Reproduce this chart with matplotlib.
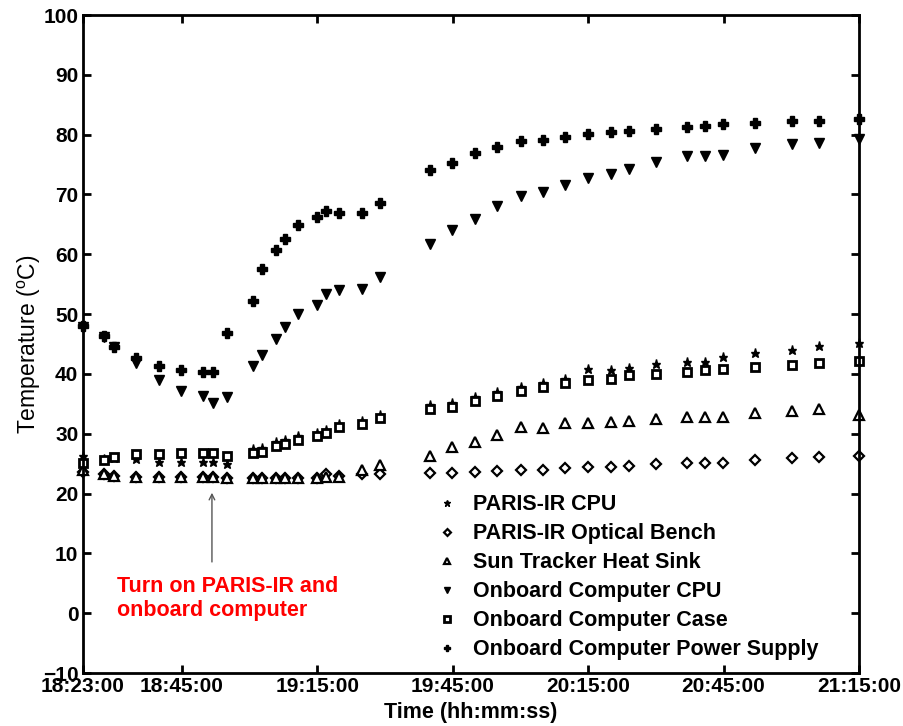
import pandas as pd
import numpy as np
import matplotlib
matplotlib.use('Agg')
import matplotlib.pyplot as plt
import matplotlib.dates as mdates

plt.rcParams['font.family'] = ['Liberation Sans', 'DejaVu Sans']
plt.rcParams['mathtext.fontset'] = 'custom'
plt.rcParams['mathtext.rm'] = 'Liberation Sans'

# sample times (same date for all readings)
times = ['18:23:00', '18:27:50', '18:30:00', '18:34:50', '18:39:50', '18:44:50',
         '18:49:40', '18:51:55', '18:54:55', '19:00:50', '19:02:50', '19:05:55',
         '19:07:55', '19:10:50', '19:14:50', '19:17:00', '19:19:50', '19:24:55',
         '19:28:55', '19:40:00', '19:44:50', '19:49:55', '19:54:50', '20:00:05',
         '20:04:55', '20:09:50', '20:14:55', '20:20:00', '20:24:00', '20:30:00',
         '20:36:50', '20:41:00', '20:44:50', '20:51:55', '21:00:05', '21:06:05',
         '21:15:00']

paris_cpu = [26.3, 25.8, 26.0, 25.8, 25.3, 25.3, 25.3, 25.3, 25.0, 27.4,
             27.6, 28.6, 28.9, 29.6, 30.2, 30.7, 31.7, 32.2, 33.2, 34.8,
             35.1, 36.1, 36.9, 37.8, 38.5, 39.2, 40.9, 40.6, 41.0, 41.7,
             42.0, 42.0, 42.8, 43.5, 44.0, 44.7, 45.2]
optical_bench = [23.6, 23.3, 22.9, 22.8, 22.8, 22.8, 22.8, 22.8, 22.6, 22.6,
                 22.6, 22.6, 22.6, 22.6, 22.6, 23.3, 23.0, 23.2, 23.3, 23.4,
                 23.4, 23.6, 23.8, 24.0, 24.0, 24.3, 24.4, 24.4, 24.6, 24.9,
                 25.1, 25.1, 25.1, 25.6, 26.0, 26.1, 26.3]
heat_sink = [24.0, 23.3, 23.0, 22.8, 22.8, 22.8, 22.8, 22.8, 22.6, 22.6,
             22.6, 22.6, 22.6, 22.6, 22.6, 22.8, 22.8, 23.9, 24.8, 26.2,
             27.8, 28.6, 29.8, 31.1, 31.0, 31.8, 31.8, 32.0, 32.1, 32.5,
             32.8, 32.8, 32.8, 33.5, 33.8, 34.1, 33.1]
obc_cpu = [47.8, 46.2, 44.5, 41.8, 39.0, 37.2, 36.3, 35.2, 36.2, 41.3,
           43.2, 45.9, 47.9, 50.0, 51.5, 53.4, 54.0, 54.2, 56.2, 61.7,
           64.1, 65.9, 68.1, 69.8, 70.4, 71.6, 72.8, 73.4, 74.3, 75.5,
           76.5, 76.5, 76.6, 77.8, 78.5, 78.6, 79.3]
obc_case = [25.1, 25.6, 26.1, 26.6, 26.6, 26.8, 26.8, 26.8, 26.3, 26.8,
            27.0, 28.0, 28.3, 29.0, 29.6, 30.1, 31.1, 31.6, 32.6, 34.2,
            34.5, 35.5, 36.3, 37.2, 37.8, 38.4, 39.0, 39.2, 39.8, 40.0,
            40.3, 40.7, 40.8, 41.2, 41.5, 41.8, 42.2]
obc_power = [48.0, 46.3, 44.5, 42.6, 41.3, 40.7, 40.3, 40.3, 46.9, 52.2,
             57.6, 60.7, 62.6, 64.9, 66.3, 67.3, 66.9, 66.9, 68.6, 74.1,
             75.3, 77.0, 78.0, 79.0, 79.1, 79.6, 80.1, 80.5, 80.6, 81.0,
             81.3, 81.5, 81.8, 82.0, 82.3, 82.3, 82.6]

tick_times = ['18:23:00', '18:45:00', '19:15:00', '19:45:00',
              '20:15:00', '20:45:00', '21:15:00']

day = '2010-01-01 '
t = pd.to_datetime([day + s for s in times])
ticks = mdates.date2num(pd.to_datetime([day + s for s in tick_times]))

fig = plt.figure(figsize=(9.04, 7.26), dpi=100)
ax = fig.add_axes([0.0913, 0.0730, 0.8589, 0.9063])

style = dict(linestyle='none', clip_on=False, color='black')
ax.plot(t, paris_cpu, marker='*', markersize=6.5, label='PARIS-IR CPU', **style)
ax.plot(t, optical_bench, marker='D', markersize=5, markerfacecolor='white',
        markeredgewidth=1.6, label='PARIS-IR Optical Bench', **style)
ax.plot(t, heat_sink, marker='^', markersize=6.5, markerfacecolor='white',
        markeredgewidth=1.6, label='Sun Tracker Heat Sink', **style)
ax.plot(t, obc_cpu, marker='v', markersize=6.5, label='Onboard Computer CPU', **style)
ax.plot(t, obc_case, marker='s', markersize=5.5, markerfacecolor='white',
        markeredgewidth=2.0, label='Onboard Computer Case', **style)
ax.plot(t, obc_power, marker='P', markersize=6.5, label='Onboard Computer Power Supply', **style)

ax.set_xlim(ticks[0], ticks[-1])
ax.set_ylim(-10, 100)
ax.set_xticks(ticks)
ax.xaxis.set_major_formatter(mdates.DateFormatter('%H:%M:%S'))
ax.set_yticks(np.arange(-10, 101, 10))

for s in ax.spines.values():
    s.set_linewidth(2)
ax.tick_params(direction='in', length=6, width=2, top=True, right=True,
               labelsize=15, pad=3)
for lbl in ax.get_xticklabels() + ax.get_yticklabels():
    lbl.set_fontweight('bold')

ax.set_xlabel('Time (hh:mm:ss)', fontsize=15.5, fontweight='bold', labelpad=4)
ax.set_ylabel('Temperature ($^{\\rm o}$C)', fontsize=16.5, labelpad=0)

# power-on annotation
x_arrow = mdates.date2num(pd.Timestamp(day + '18:51:40'))
ax.annotate('', xy=(x_arrow, 20.6), xytext=(x_arrow, 8.1),
            arrowprops=dict(arrowstyle='->', color='#555555', lw=1))
ax.text(mdates.date2num(pd.Timestamp(day + '18:30:38')), 6.3,
        'Turn on PARIS-IR and\nonboard computer', color='red',
        fontsize=15.5, fontweight='bold', ha='left', va='top', linespacing=1.2)

leg = ax.legend(loc='upper left', bbox_to_anchor=(0.431, 0.301), frameon=False,
                prop=dict(size=15.5, weight='bold'), markerscale=0.7,
                handlelength=1.0, handletextpad=0.7, labelspacing=0.37)

fig.savefig('out.png', dpi=100)
